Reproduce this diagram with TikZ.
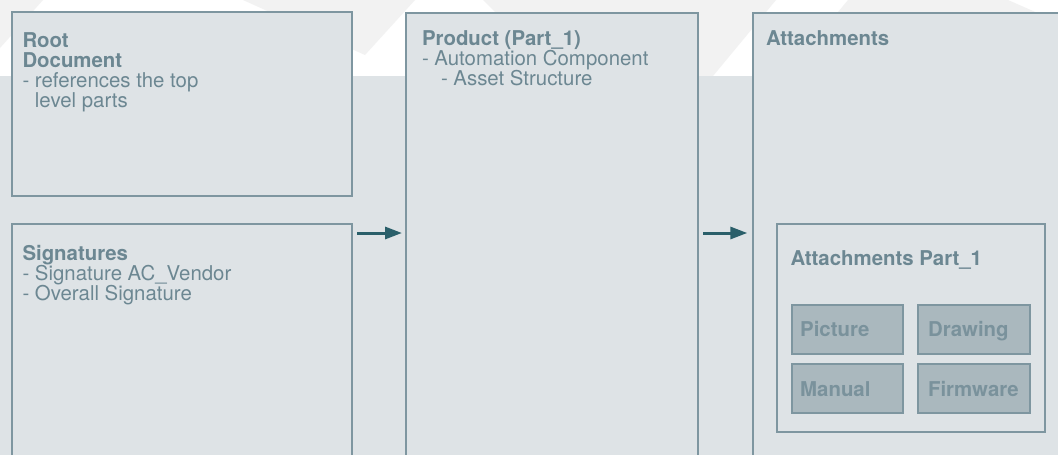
\documentclass[tikz,border=0pt]{standalone}
\usepackage{fontspec}
\setmainfont{TeX Gyre Heros}
\usetikzlibrary{arrows.meta}

\definecolor{bgblue}{HTML}{DEE3E6}
\definecolor{markgray}{HTML}{F2F2F2}
\definecolor{frame}{HTML}{7E96A0}
\definecolor{ink}{HTML}{6C8792}
\definecolor{tilefill}{HTML}{AAB8BE}
\definecolor{tileink}{HTML}{7A929C}
\definecolor{arrowteal}{HTML}{2A5F6A}

\newcommand{\firststrut}{\rule{0pt}{15pt}}

\begin{document}
\begin{tikzpicture}[x=1pt,y=-1pt,
  panel/.style={draw=frame, line width=2pt, fill=bgblue, rectangle,
    inner sep=0pt, outer sep=0pt, anchor=north west},
  tile/.style={draw=frame, line width=2pt, fill=tilefill, rectangle,
    outer sep=0pt, anchor=north west, inner ysep=0pt, inner xsep=#1,
    text width=111.6pt-2*#1, minimum height=48.8pt, align=left,
    text height=14.5pt, text depth=0pt, text=tileink,
    font=\fontsize{20.4}{20}\selectfont\bfseries},
  tile/.default=8.5pt,
  txt/.style={font=\fontsize{20.4}{20}\selectfont, text=ink,
    inner sep=0pt, outer sep=0pt, align=left},
  flow/.style={draw=arrowteal, line width=3pt,
    -{Triangle[length=17pt,width=12pt]}}]

\useasboundingbox (0,0) rectangle (1058,455);
\clip (0,0) rectangle (1058,455);

% backdrop: pale band with faint chevrons, then the blue-grey field
\fill[white] (0,0) rectangle (1058,76);
\fill[markgray] (0,0) -- (43,0) -- (0,48) -- cycle;
\fill[markgray] (243,0) -- (415,0) -- (365,55) -- cycle;
\fill[markgray] (483,0) -- (776,0) -- (713,76) -- (559,76) -- cycle;
\fill[markgray] (848,0) -- (1008,0) -- (1058,22) -- (1058,76) -- (785,76) -- cycle;
\fill[bgblue] (0,76) rectangle (1058,455);

% panels
\node[panel, minimum width=339.7pt, minimum height=183.5pt] (root) at (12,12.3) {};
\node[panel, minimum width=339.7pt, minimum height=300pt] (sig) at (12,224.3) {};
\node[panel, minimum width=291.7pt, minimum height=500pt] (prod) at (406,12.5) {};
\node[panel, minimum width=400pt, minimum height=500pt] (att) at (752.5,12.5) {};
\node[panel, minimum width=268.3pt, minimum height=207.4pt] (attp) at (776.7,224.3) {};

% attachment tiles
\node[tile] (pic) at (791.7,305) {Picture};
\node[tile=9.8pt] (drw) at (918.3,305) {Drawing};
\node[tile] (man) at (791.7,364.4) {Manual};
\node[tile=9.8pt] (fw) at (918.3,364.4) {Firmware};

% panel texts
\node[txt, anchor=north west] (rootlbl) at (22.5,32)
  {\firststrut\textbf{Root}\\\textbf{Document}\\- references the top\\\phantom{- }level parts};
\node[txt, anchor=north west] (siglbl) at (22.5,245)
  {\firststrut\textbf{Signatures}\\- Signature AC\_Vendor\\- Overall Signature};
\node[txt, anchor=north west] (prodlbl) at (422,30.3)
  {\firststrut\textbf{Product (Part\_1)}\\- Automation Component\\\hspace*{19pt}- Asset Structure};
\node[txt, anchor=base west] (attlbl) at (766,45.7) {\textbf{Attachments}};
\node[txt, anchor=base west] (attplbl) at (790.5,265) {\textbf{Attachments Part\_1}};

% flow arrows
\coordinate (lane) at (0,233);
\draw[flow, shorten <=5.3pt, shorten >=4pt] (sig.east |- lane) -- (prod.west |- lane);
\draw[flow, shorten <=5.3pt, shorten >=5.2pt] (prod.east |- lane) -- (att.west |- lane);
\end{tikzpicture}
\end{document}
